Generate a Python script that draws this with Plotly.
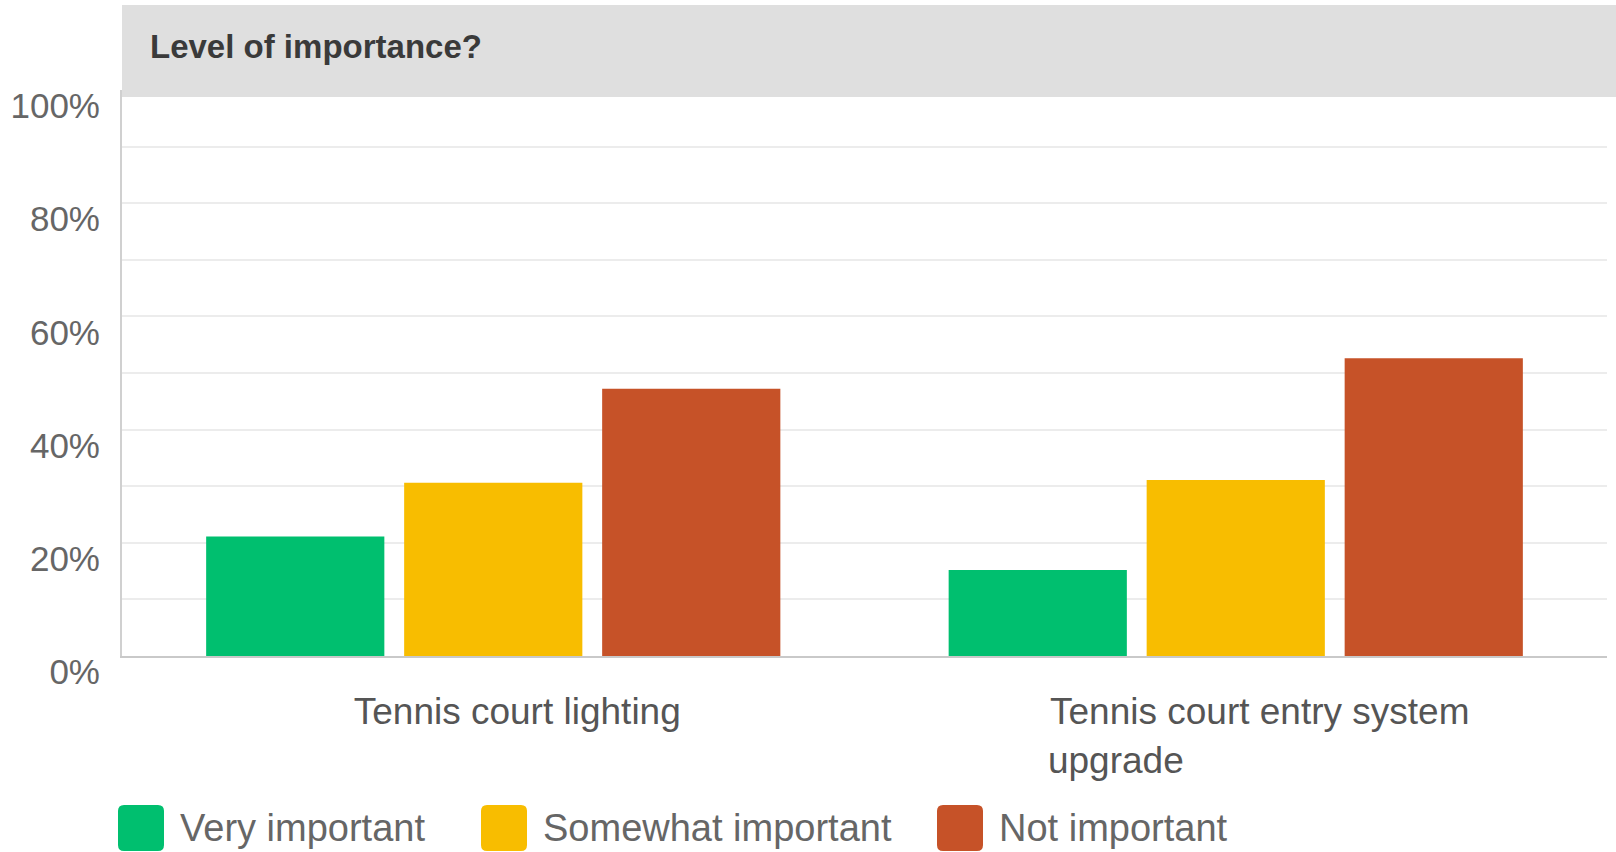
import plotly.graph_objects as go

# ---- data ----
categories = ["Tennis court lighting", "Tennis court entry system upgrade"]
series_names = ["Very important", "Somewhat important", "Not important"]
very_important = [21.1, 15.2]
somewhat_important = [30.6, 31.1]
not_important = [47.2, 52.6]
y_tickvals = [0, 20, 40, 60, 80, 100]
y_ticktext = ["0%", "20%", "40%", "60%", "80%", "100%"]
title_text = "Level of importance?"

colors = ["#00bf6f", "#f8bd00", "#c65228"]
values = [very_important, somewhat_important, not_important]

# figure geometry (pixels)
W, H = 1616, 852
L, R, T, B = 122, 9, 90, 196
PW, PH = W - L - R, H - T - B


def px_x(x):
    return (x - L) / PW


def px_y(y):
    return (H - B - y) / PH


FONT = "Liberation Sans, Arial, sans-serif"

# tick labels: second category wrapped, left aligned via non-breaking padding
tick_labels = ["Tennis court lighting",
               "Tennis court entry system<br>upgrade" + "\u00a0" * 28]

fig = go.Figure()
for name, vals, col in zip(series_names, values, colors):
    fig.add_trace(go.Bar(
        x=categories, y=vals, name=name,
        marker=dict(color=col, line=dict(width=0)),
        showlegend=False,
    ))

shapes = []
# grey header band
shapes.append(dict(type="rect", xref="paper", yref="paper",
                   x0=0, x1=px_x(W + 2), y0=px_y(97), y1=px_y(5),
                   fillcolor="#dfdfdf", line=dict(width=0), layer="above"))

# legend (rounded swatches + labels)
legend_x = [118, 481, 937]
sw = 46
top, bot = 805, 851
r = 6
annotations = [dict(text=title_text, x=px_x(148), y=px_y(47), xref="paper", yref="paper",
                    xanchor="left", yanchor="middle", showarrow=False,
                    font=dict(family=FONT, size=33, color="#3a3a3a", weight="bold"))]
for lx, name, col in zip(legend_x, series_names, colors):
    x0, x1 = lx, lx + sw
    rx, ry = r / PW, r / PH
    X0, X1, Y0, Y1 = px_x(x0), px_x(x1), px_y(bot), px_y(top)
    path = (f"M {X0+rx},{Y0} L {X1-rx},{Y0} Q {X1},{Y0} {X1},{Y0+ry} "
            f"L {X1},{Y1-ry} Q {X1},{Y1} {X1-rx},{Y1} L {X0+rx},{Y1} "
            f"Q {X0},{Y1} {X0},{Y1-ry} L {X0},{Y0+ry} Q {X0},{Y0} {X0+rx},{Y0} Z")
    shapes.append(dict(type="path", xref="paper", yref="paper", path=path,
                       fillcolor=col, line=dict(width=0), layer="above"))
    annotations.append(dict(text=name, x=px_x(x1 + 14), y=px_y(828), xref="paper", yref="paper",
                            xanchor="left", yanchor="middle", showarrow=False,
                            font=dict(family=FONT, size=38, color="#666666")))

fig.update_layout(
    width=W, height=H,
    margin=dict(l=L, r=R, t=T, b=B, pad=0),
    paper_bgcolor="white", plot_bgcolor="white",
    barmode="group", bargap=0.2, bargroupgap=0.1,
    shapes=shapes, annotations=annotations,
    font=dict(family=FONT),
)
fig.update_xaxes(
    tickvals=categories, ticktext=tick_labels,
    showline=True, linecolor="#c9c9c9", linewidth=2,
    showgrid=False, ticks="",
    tickfont=dict(family=FONT, size=37, color="#555555"),
    ticklabelshift=24, ticklabelstandoff=22,
)
fig.update_yaxes(
    range=[0, 100], tickvals=y_tickvals, ticktext=y_ticktext,
    showline=True, linecolor="#d0d0d0", linewidth=2,
    showgrid=True, gridcolor="#ececec", gridwidth=1.5,
    minor=dict(dtick=10, showgrid=True, gridcolor="#ececec", gridwidth=1.5),
    zeroline=False, ticks="",
    tickfont=dict(family=FONT, size=35, color="#666666"),
    ticklabelshift=16, ticklabelstandoff=13,
)

fig.write_html(
    "out.html",
    config={"displayModeBar": False},
    post_script="document.body.style.margin='0';document.body.style.overflow='hidden';",
)
